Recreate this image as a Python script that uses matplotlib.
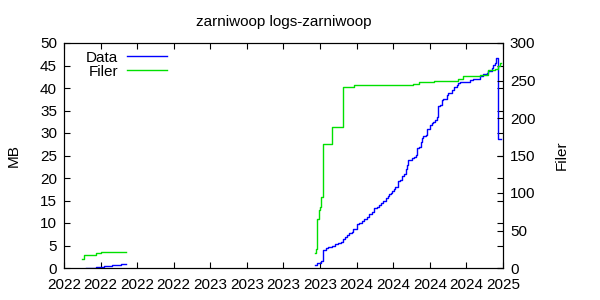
import numpy as np
import matplotlib
matplotlib.use('Agg')
import matplotlib.pyplot as plt
from matplotlib.lines import Line2D

###############################################################################
# Data (x in decimal years)
###############################################################################
title = 'zarniwoop logs-zarniwoop'

# Data (MB), first block in 2022
data_t1 = [2022.150, 2022.217, 2022.273, 2022.330, 2022.390, 2022.422]
data_mb1 = [0.1, 0.2, 0.4, 0.65, 0.95, 0.95]

# Data (MB), second block 2023-2024
data_t2 = [2023.715, 2023.731, 2023.754, 2023.772, 2023.790, 2023.806,
           2023.829, 2023.852, 2023.875, 2023.891, 2023.905, 2023.920,
           2023.936, 2023.950, 2023.966, 2023.977, 2024.000, 2024.018,
           2024.034, 2024.050, 2024.069, 2024.086, 2024.103, 2024.118,
           2024.137, 2024.155, 2024.166, 2024.182, 2024.200, 2024.212,
           2024.223, 2024.235, 2024.244, 2024.255, 2024.262, 2024.280,
           2024.285, 2024.296, 2024.308, 2024.312, 2024.323, 2024.335,
           2024.342, 2024.353, 2024.365, 2024.376, 2024.394, 2024.406,
           2024.414, 2024.428, 2024.438, 2024.449, 2024.455, 2024.472,
           2024.483, 2024.501, 2024.513, 2024.524, 2024.535, 2024.547,
           2024.554, 2024.558, 2024.569, 2024.581, 2024.592, 2024.615,
           2024.626, 2024.643, 2024.654, 2024.665, 2024.684, 2024.695,
           2024.706, 2024.775, 2024.797, 2024.820, 2024.843, 2024.865,
           2024.889, 2024.900, 2024.923, 2024.934, 2024.945, 2024.952,
           2024.969, 2024.983]
data_mb2 = [0.73, 1.1, 1.5, 4.0, 4.37, 4.6,
            4.9, 5.33, 5.6, 5.85, 6.4, 6.97,
            7.3, 7.7, 8.07, 8.6, 9.8, 10.1,
            10.5, 10.8, 11.4, 12.1, 12.5, 13.3,
            13.6, 14.0, 14.5, 15.0, 15.6, 16.0,
            16.4, 16.7, 17.2, 17.6, 18.1, 18.8,
            19.3, 19.6, 19.9, 20.4, 21.0, 22.1,
            22.9, 24.0, 24.1, 24.4, 24.7, 25.1,
            26.6, 27.0, 28.1, 29.0, 29.3, 29.6,
            30.8, 31.8, 32.2, 32.5, 33.0, 33.6,
            34.4, 35.9, 36.2, 37.3, 37.5, 38.4,
            38.8, 39.0, 39.6, 40.3, 40.7, 41.2,
            41.4, 41.8, 41.9, 42.1, 42.7, 43.1,
            43.4, 43.8, 44.4, 45.1, 45.6, 46.6,
            28.7, 28.7]

# Filer (file count)
filer_t1 = [2022.123, 2022.137, 2022.217, 2022.251, 2022.422]
filer_n1 = [12, 17, 19.5, 21, 21]

filer_t2 = [2023.717, 2023.722, 2023.731, 2023.741, 2023.750, 2023.758,
            2023.770, 2023.834, 2023.909, 2023.984, 2024.387, 2024.428,
            2024.529, 2024.695, 2024.729, 2024.843, 2024.900, 2024.945,
            2024.968, 2024.980, 2024.986]
filer_n2 = [20, 26, 66, 77, 81, 95,
            165, 188, 241, 244, 245.3, 247.5,
            249, 251.5, 256, 257.3, 264, 265,
            269, 272.8, 272.8]

xtick_pos = [2022 + 0.25 * i for i in range(13)]
xtick_labels = ['2022'] * 4 + ['2023'] * 4 + ['2024'] * 4 + ['2025']

###############################################################################
# Plot
###############################################################################
plt.rcParams['font.family'] = ['Liberation Sans', 'DejaVu Sans']
plt.rcParams['font.size'] = 11

blue = '#0000ff'
green = '#00e000'

fig = plt.figure(figsize=(6, 3), dpi=100)
ax = fig.add_axes([64 / 600, 32 / 300, 439 / 600, 225 / 300])
ax2 = ax.twinx()

ax.plot(data_t1, data_mb1, drawstyle='steps-post', color=blue, lw=1)
ax.plot(data_t2, data_mb2, drawstyle='steps-post', color=blue, lw=1)
ax2.plot(filer_t1, filer_n1, drawstyle='steps-post', color=green, lw=1)
ax2.plot(filer_t2, filer_n2, drawstyle='steps-post', color=green, lw=1)

ax.set_xlim(2022, 2025)
ax.set_ylim(0, 50)
ax2.set_ylim(0, 300)
ax.set_xticks(xtick_pos)
ax.set_xticklabels(xtick_labels)
ax.set_yticks(np.arange(0, 51, 5))
ax2.set_yticks(np.arange(0, 301, 50))

ax.tick_params(direction='in', top=True, right=True, length=4, width=0.8,
               pad=5)
ax.tick_params(axis='x', pad=7)
ax2.tick_params(direction='in', length=4, width=0.8, pad=5)

ax.set_ylabel('MB', labelpad=14)
ax2.set_ylabel('Filer', labelpad=14)
ax.set_title(title, fontsize=11, pad=12)

handles = [Line2D([], [], color=blue, lw=1), Line2D([], [], color=green, lw=1)]
ax2.legend(handles, ['Data', 'Filer'], loc='upper left', frameon=False,
           markerfirst=False, handlelength=2.6, handletextpad=0.6,
           labelspacing=0.0, borderpad=0, borderaxespad=0,
           bbox_to_anchor=(0.05, 0.966))

fig.savefig('out.png', dpi=100)
